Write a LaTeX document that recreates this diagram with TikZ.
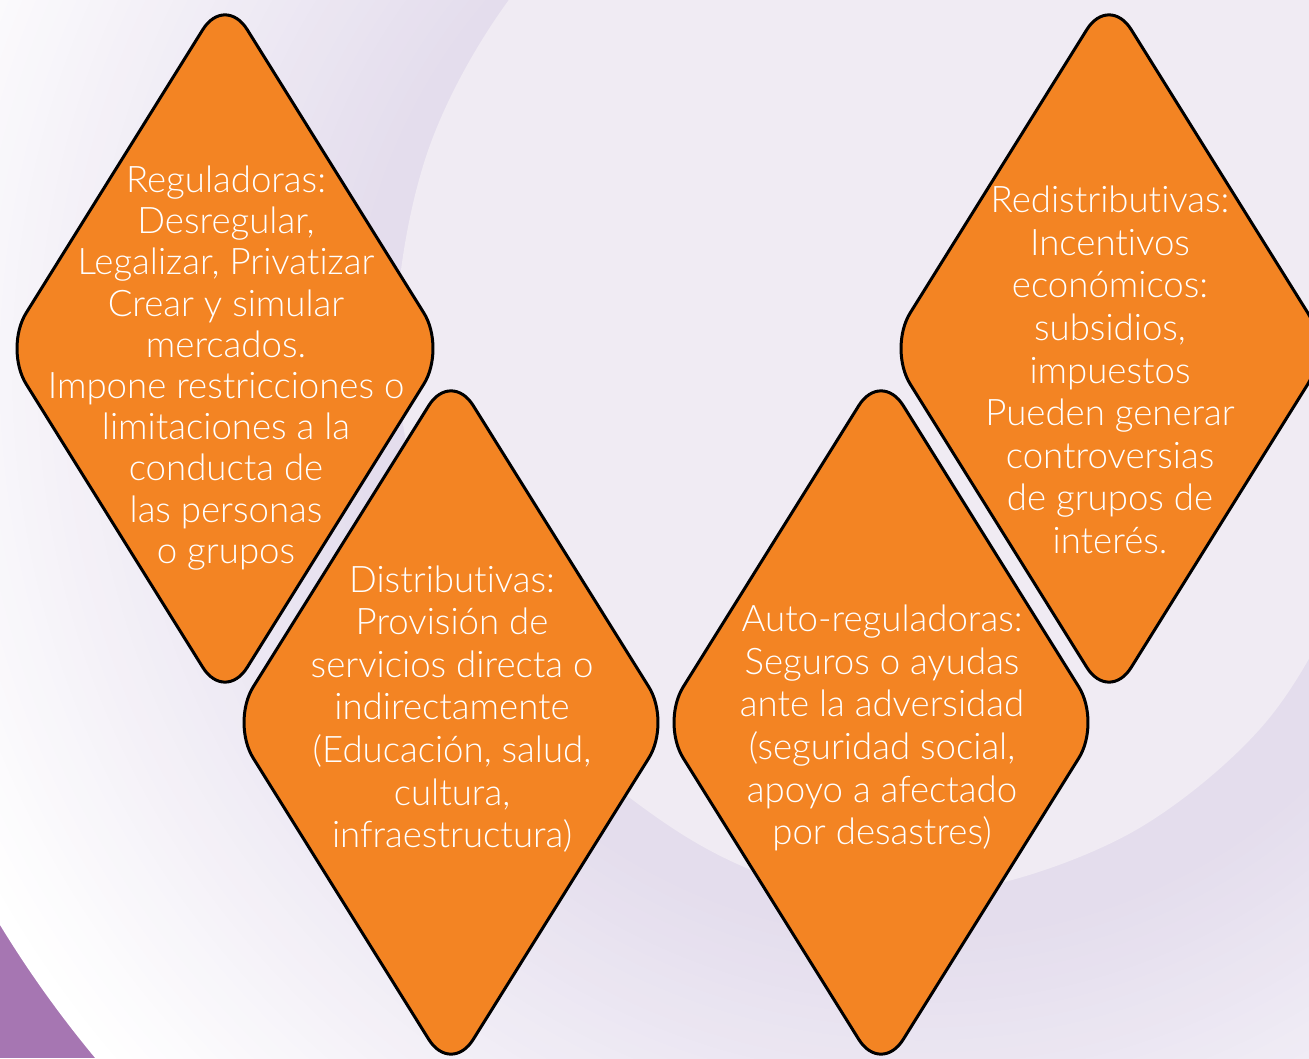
\documentclass[tikz,border=0pt]{standalone}
\usepackage{fontspec}
\setmainfont{Lato Light}[Ligatures=NoCommon]
\definecolor{lav}{RGB}{228,221,237}
\definecolor{lavin}{RGB}{240,235,243}
\definecolor{purp}{RGB}{166,118,178}
\definecolor{orng}{RGB}{243,132,35}
\tikzset{
  dia/.style={fill=orng,draw=black,line width=1.5pt,rounded corners=21pt},
  lbl/.style={text=white,align=center,font=\fontsize{18.3pt}{21.3pt}\selectfont,inner sep=0pt}
}
\newcommand\dmd[4]{%
  \draw[dia] ({#1-#3/2},{#2+#4/2}) -- ({#1-#3},#2) -- (#1,{#2-#4}) -- ({#1+#3},#2) -- (#1,{#2+#4}) -- cycle;}
\begin{document}
\begin{tikzpicture}[x=0.5pt,y=-0.5pt]
\useasboundingbox (0,0) rectangle (1309,1058);
\begin{scope}
\clip (0,0) rectangle (1309,1058);
\fill[purp] (0,0) rectangle (1309,1058);
\fill[white] (960,340) circle (1124);
\foreach \i in {0,...,40}{
  \pgfmathsetmacro\rr{1070-\i*12.5}
  \pgfmathsetmacro\pp{\i*2.5}
  \fill[lav!\pp!white] (920,370) circle (\rr);
}
\fill[lavin] plot[smooth cycle,tension=0.55] coordinates {(396,340) (430,145) (529,-26) (700,-180) (1000,-240) (1330,-130) (1440,150) (1405,400) (1350,576) (1266,722) (1136,830) (978,888) (818,890) (680,833) (529,706) (430,535)};
\end{scope}
\dmd{225}{348.5}{221}{354.5}
\dmd{451}{722.5}{220}{352.5}
\dmd{881}{722.5}{220}{352.5}
\dmd{1109}{348.5}{221}{354.5}
\node[lbl,font=\fontsize{18.3pt}{20.6pt}\selectfont] (t1) at (226,368) {Reguladoras:\\Desregular,\\Legalizar, Privatizar\\Crear y simular\\mercados.\\Impone restricciones o\\limitaciones a la\\conducta de\\las personas\\o grupos};
\node[lbl] (t2) at (452,709) {Distributivas:\\Provisión de\\servicios directa o\\indirectamente\\(Educación, salud,\\cultura,\\infraestructura)};
\node[lbl] (t3) at (882,728) {Auto-reguladoras:\\Seguros o ayudas\\ante la adversidad\\(seguridad social,\\apoyo a afectado\\por desastres)};
\node[lbl] (t4) at (1110,370) {Redistributivas:\\Incentivos\\económicos:\\subsidios,\\impuestos\\Pueden generar\\controversias\\de grupos de\\interés.};
\end{tikzpicture}
\end{document}
